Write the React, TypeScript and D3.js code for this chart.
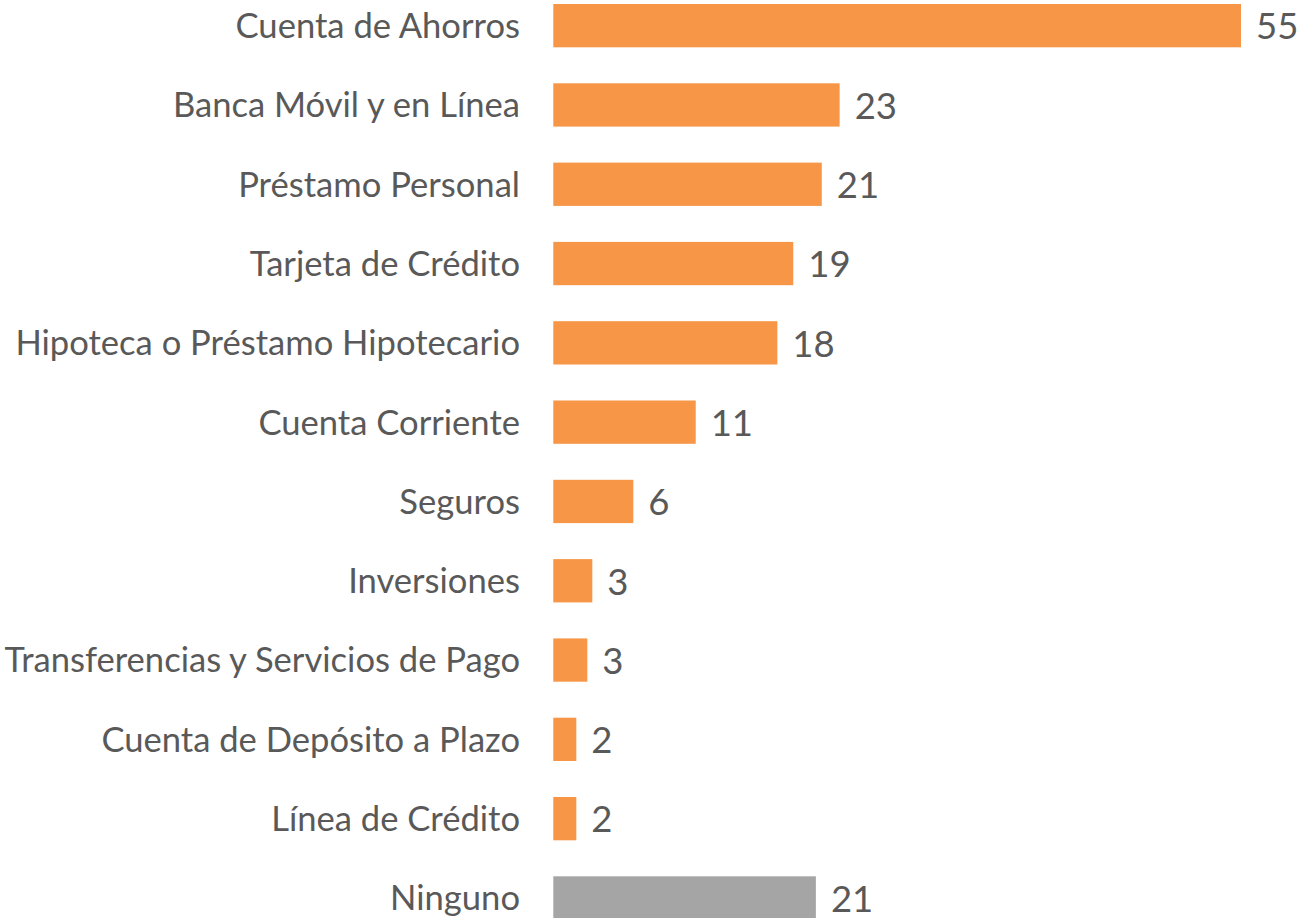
import React from "react";
import * as d3 from "d3";

const categories = [
  "Cuenta de Ahorros",
  "Banca Móvil y en Línea",
  "Préstamo Personal",
  "Tarjeta de Crédito",
  "Hipoteca o Préstamo Hipotecario",
  "Cuenta Corriente",
  "Seguros",
  "Inversiones",
  "Transferencias y Servicios de Pago",
  "Cuenta de Depósito a Plazo",
  "Línea de Crédito",
  "Ninguno",
];
const values = [55, 22.9, 21.47, 19.19, 17.92, 11.39, 6.4, 3.12, 2.72, 1.84, 1.84, 21.0];
const valueLabels = ["55", "23", "21", "19", "18", "11", "6", "3", "3", "2", "2", "21"];
const barColors = ["#F79646", "#F79646", "#F79646", "#F79646", "#F79646", "#F79646", "#F79646", "#F79646", "#F79646", "#F79646", "#F79646", "#A5A5A5"];

export default function App() {
  const W = 1299;
  const H = 918;
  const x0 = 553.3;
  const x = d3.scaleLinear().domain([0, 55]).range([x0, 1241]);
  const step = 79.3;
  const y = d3
    .scaleBand<string>()
    .domain(categories)
    .range([-14, -14 + step * categories.length])
    .paddingInner(0.454)
    .paddingOuter(0.227);
  const font = "Lato, 'Open Sans', sans-serif";
  const color = "#595959";
  return (
    <svg width={W} height={H} style={{ position: "absolute", left: 0, top: 0 }}>
      {categories.map((c, i) => {
        const by = y(c)!;
        const bh = y.bandwidth();
        const cy = by + bh / 2;
        return (
          <g key={c}>
            <rect x={x(0)} y={by} width={x(values[i]) - x(0)} height={bh} fill={barColors[i]} />
            <text x={520} y={cy + 12.4} textAnchor="end" fontFamily={font} fontSize={34.6} fill={color}>
              {c}
            </text>
            <text x={x(values[i]) + 15} y={cy + 13.8} fontFamily={font} fontSize={36.5} fill={color}>
              {valueLabels[i]}
            </text>
          </g>
        );
      })}
    </svg>
  );
}
